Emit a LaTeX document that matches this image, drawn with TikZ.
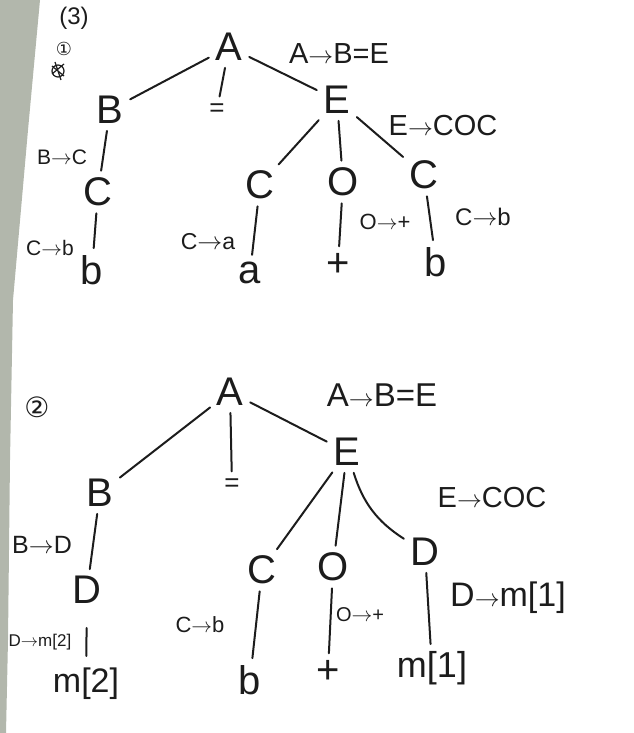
\documentclass[tikz,border=0pt]{standalone}
\usepackage{fontspec}
\setmainfont{Liberation Sans}
\newfontfamily\circfont{DejaVu Sans}
\usepackage{xcolor}

\begin{document}
\begin{tikzpicture}[x=1pt,y=-1pt,
  treenode/.style={inner sep=4pt,text=inkblack,font=\fontsize{40}{44}\selectfont},
  rulenote/.style={inner sep=0pt,text=inkblack,font=\fontsize{#1}{#1}\selectfont},
  branch/.style={draw=inkblack,line width=2pt,line cap=round,shorten <=3pt,shorten >=3pt}]
\definecolor{inkblack}{HTML}{1C1C1C}
\definecolor{papershade}{HTML}{B2B7AC}
\useasboundingbox (0,0) rectangle (634,733);
\fill[papershade] (0,0) -- (40,0) -- (28,130) -- (13,300) -- (10,460) -- (8,640) -- (6,733) -- (0,733) -- cycle;

% first tree
\node[rulenote=24] (t3) at (74,18) {(3)};
\node[rulenote=18,font=\circfont\fontsize{18}{18}\selectfont] (tone) at (64,49) {①};
\draw[inkblack,line width=1.2pt] (58,71) circle (6) (52,66) -- (64,76) (52,74) -- (64,64) (55,62) -- (61,80);
  \foreach \nm/\txt/\pos in {tA/A/{229,47},tB/B/{110,110},tE/E/{337,100},tCa/C/{98,192},tbl/b/{92,270},
    tCb/C/{260,185},ta/a/{250,273},tO/O/{343,182},tplus/+/{338,265},tCc/C/{424,175},tbr/b/{436,262}}
  {  \node[treenode] (\nm) at (\pos) {\txt};}
\node[treenode,font=\fontsize{26}{28}\selectfont] (teq) at (217,110) {=};
  \foreach \a/\b in {tA/tB,tA/teq,tA/tE,tB/tCa,tCa/tbl,tE/tCb,tE/tO,tE/tCc,tCb/ta,tO/tplus,tCc/tbr}
  {  \draw[branch] (\a) -- (\b);}
\node[rulenote=29] (tArule) at (339,54) {A$\to$B=E};
\node[rulenote=29] (tErule) at (443,126) {E$\to$COC};
\node[rulenote=21] (tBrule) at (62,157) {B$\to$C};
\node[rulenote=21] (tCrule1) at (50,248) {C$\to$b};
\node[rulenote=23] (tCrule2) at (208,242) {C$\to$a};
\node[rulenote=22] (tOrule) at (385,222) {O$\to$+};
\node[rulenote=24] (tCrule3) at (483,217) {C$\to$b};

% second tree
\node[rulenote=28,font=\circfont\fontsize{28}{28}\selectfont] (two) at (37,407) {②};
  \foreach \nm/\txt/\pos in {bA/A/{230,392},bB/B/{100,493},bE/E/{347,452},bDl/D/{87,590},
    bC/C/{262,570},bb/b/{250,680},bO/O/{333,567},bplus/+/{328,672},bDr/D/{425,552}}
  {  \node[treenode] (\nm) at (\pos) {\txt};}
\node[treenode,font=\fontsize{26}{28}\selectfont] (beq) at (232,485) {=};
\node[treenode,font=\fontsize{34}{36}\selectfont] (bmtwo) at (86,684) {m[2]};
\node[treenode,font=\fontsize{36}{38}\selectfont] (bmone) at (432,668) {m[1]};
  \foreach \a/\b in {bA/bB,bA/beq,bA/bE,bB/bDl,bE/bC,bE/bO,bC/bb,bO/bplus,bDr/bmone}
  {  \draw[branch] (\a) -- (\b);}
\draw[branch,shorten <=20pt,shorten >=8pt] (bDl) -- (bmtwo);
\draw[branch] (bE) to[bend right=20] (bDr);
\node[rulenote=33] (bArule) at (382,395) {A$\to$B=E};
\node[rulenote=29] (bErule) at (492,498) {E$\to$COC};
\node[rulenote=25] (bBrule) at (42,545) {B$\to$D};
\node[rulenote=17] (bDrule1) at (40,642) {D$\to$m[2]};
\node[rulenote=22] (bCrule) at (200,625) {C$\to$b};
\node[rulenote=20] (bOrule) at (360,615) {O$\to$+};
\node[rulenote=34] (bDrule2) at (508,598) {D$\to$m[1]};
\end{tikzpicture}
\end{document}
